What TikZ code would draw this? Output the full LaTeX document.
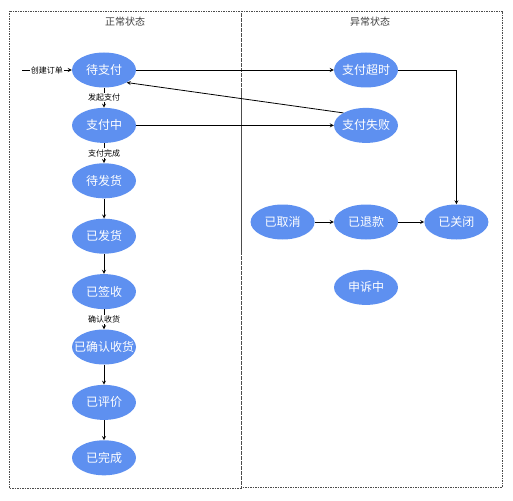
\documentclass[tikz,border=0pt]{standalone}
\usepackage{fontspec}
\newfontfamily\cjk{Noto Sans CJK SC}
\usetikzlibrary{shapes.geometric,positioning,arrows}

\begin{document}
\begin{tikzpicture}[x=1pt, y=-1pt,
    %Option for nice arrows
    >=stealth, %
    node distance=20pt,%
    state/.style={ellipse, fill=stateblue, text=white,
        minimum width=64pt, minimum height=35pt, inner xsep=-8pt, inner ysep=0pt,
        font=\cjk\fontsize{12}{12}\selectfont},
    frame/.style={draw=black!70, dash pattern=on 1.5pt off 1pt, line width=0.6pt},
    title/.style={font=\cjk\fontsize{10}{10}\selectfont, text=black!75},
    trans/.style={->, line width=0.8pt},
    tlabel/.style={fill=white, inner sep=1pt, font=\cjk\fontsize{8}{8}\selectfont},
]
    % Colors
    \definecolor{stateblue}{RGB}{94,144,240}

    \useasboundingbox (0,0) rectangle (513,500);

    % Frames
    \draw[frame] (9,11) rectangle (241,488);
    \draw[frame] (241,11) rectangle (502,487);
    \node[title] (tnormal) at (125,22) {正常状态};
    \node[title] (tabnormal) at (370,22) {异常状态};

    % Normal states
    \node[state] (dzf) at (104,70) {待支付};
    \node[state, below=of dzf] (zfz) {支付中};
    \node[state, below=of zfz] (dfh) {待发货};
    \node[state, below=of dfh] (yfh) {已发货};
    \node[state, below=of yfh] (yqs) {已签收};
    \node[state, below=of yqs] (yqr) {已确认收货};
    \node[state, below=of yqr] (ypj) {已评价};
    \node[state, below=of ypj] (ywc) {已完成};

    % Abnormal states
    \node[state] (zfcs) at (366,70) {支付超时};
    \node[state, below=of zfcs] (zfsb) {支付失败};
    \node[state] (ytk) at (366,222) {已退款};
    \node[state, left=19pt of ytk] (yqx) {已取消};
    \node[state, right=26pt of ytk] (ygb) {已关闭};
    \node[state, below=30pt of ytk] (ssz) {申诉中};

    % Transitions
    \coordinate (start) at (22,70);
    \draw[trans] (start) -- node[tlabel]{创建订单} (dzf);
    \draw[trans] (dzf) -- node[tlabel]{发起支付} (zfz);
    \draw[trans] (zfz) -- node[tlabel]{支付完成} (dfh);
    \draw[trans] (dfh) -- (yfh);
    \draw[trans] (yfh) -- (yqs);
    \draw[trans] (yqs) -- node[tlabel]{确认收货} (yqr);
    \draw[trans] (yqr) -- (ypj);
    \draw[trans] (ypj) -- (ywc);

    \draw[trans] (dzf) -- (zfcs);
    \draw[trans] (zfz) -- (zfsb);
    \draw[trans] (zfsb.north west) -- (dzf.south east);
    \draw[trans] (zfcs.east) -| (ygb.north);
    \draw[trans] (yqx) -- (ytk);
    \draw[trans] (ytk) -- (ygb);
\end{tikzpicture}
\end{document}
